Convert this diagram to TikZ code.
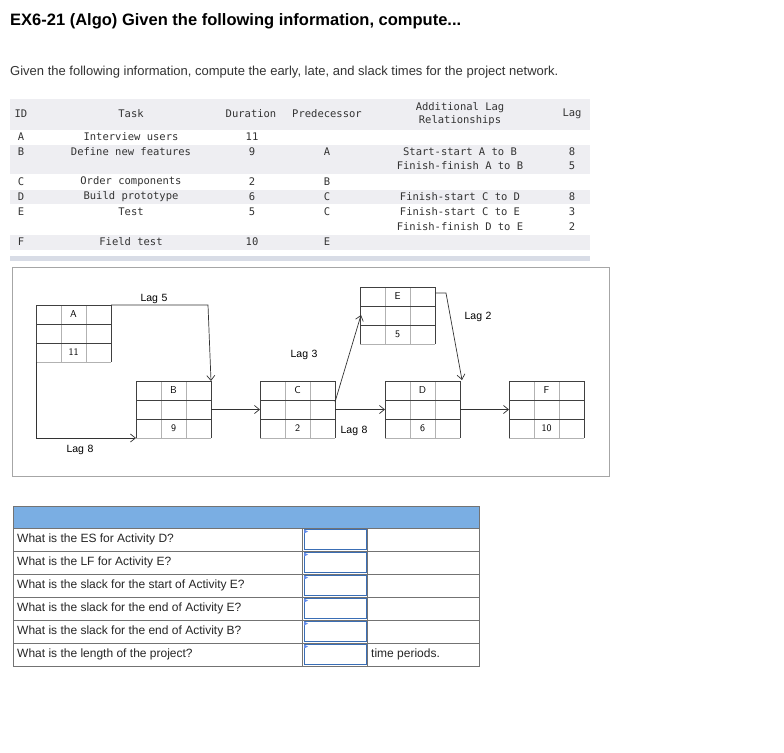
\documentclass[tikz,border=0pt]{standalone}
\usepackage{fontspec}
\setmainfont{Liberation Sans}
\setmonofont{DejaVu Sans Mono}
\usetikzlibrary{arrows.meta,calc}
\definecolor{rowg}{HTML}{EEEEF2}
\definecolor{barg}{HTML}{D8DCE6}
\definecolor{hblue}{HTML}{7AAEE3}
\definecolor{ibox}{HTML}{3A6EB5}
\definecolor{tgrey}{HTML}{333333}
\tikzset{
  mono/.style={font=\ttfamily\fontsize{10.5}{12.5}\selectfont, text=tgrey, inner sep=0pt},
  cell/.style={draw=none, inner sep=0pt, font=\fontsize{10}{11}\selectfont\sffamily},
  lagl/.style={inner sep=0pt, font=\fontsize{10.5}{12}\selectfont},
  conn/.style={draw=black!80, line width=0.7pt, -{Straight Barb[length=5pt,width=8pt]}},
  qtxt/.style={anchor=west, inner sep=0pt, font=\fontsize{12}{14}\selectfont, text=black!85},
}
\newcommand{\actbox}[5]{% name, x0, y0 (top), label, duration
  \begin{scope}[shift={(#2,#3)}]
    \draw[black!30, line width=0.6pt] (0,19) -- (75,19) (0,38) -- (75,38) (25,0) -- (25,57) (50,0) -- (50,57) (0,57) -- (75,57);
    \draw[black!75, line width=0.8pt] (0,0) -- (75,0) (0,0) -- (0,57) (75,0) -- (75,57) (0,19) -- (75,19) (0,38) -- (75,38);
    \node[cell] at (37.5,9.5) {#4};
    \node[cell] at (37.5,47.5) {#5};
    \coordinate (#1tl) at (0,0); \coordinate (#1tr) at (75,0);
    \coordinate (#1bl) at (0,57); \coordinate (#1br) at (75,57);
    \coordinate (#1ml) at (0,28.5); \coordinate (#1mr) at (75,28.5);
    \coordinate (#1ur) at (75,21);
  \end{scope}}
\begin{document}
\begin{tikzpicture}[x=1pt,y=-1pt]
\useasboundingbox (0,0) rectangle (784,752);
\fill[white] (0,0) rectangle (784,752);
\node[anchor=west,inner sep=0pt,font=\bfseries\fontsize{16.5}{18}\selectfont] (title) at (10,21) {EX6-21 (Algo) Given the following information, compute...};
\node[anchor=west,inner sep=0pt,font=\fontsize{13}{15}\selectfont,text=black!80] (sub) at (10,72) {Given the following information, compute the early, late, and slack times for the project network.};
% table shading
\fill[rowg] (10,99) rectangle (590,130);
\fill[rowg] (10,145) rectangle (590,174);
\fill[rowg] (10,190) rectangle (590,204);
\fill[rowg] (10,235) rectangle (590,250);
\fill[barg] (10,256) rectangle (590,261);
\node[mono] at (21,114) {ID};
\node[mono] at (131,114) {Task};
\node[mono] at (251,114) {Duration};
\node[mono] at (327,114) {Predecessor};
\node[mono,align=center] at (460,114) {Additional Lag\\Relationships};
\node[mono] at (572,114) {Lag};
\foreach \y/\id/\t/\d/\p in {137/A/Interview users/11/,152/B/Define new features/9/A,182/C/Order components/2/B,197/D/Build prototype/6/C,212/E/Test/5/C,242/F/Field test/10/E}{
  \node[mono] at (21,\y) {\id};
  \node[mono] at (131,\y) {\t};
  \node[mono] at (252,\y) {\d};
  \node[mono] at (327,\y) {\p};
}
\foreach \y/\r/\l in {152/Start-start A to B/8,166/Finish-finish A to B/5,197/Finish-start C to D/8,212/Finish-start C to E/3,227/Finish-finish D to E/2}{
  \node[mono] at (460,\y) {\r};
  \node[mono] at (572,\y) {\l};
}
% network
\draw[black!35, line width=0.8pt] (12,267) rectangle (609,476);
\actbox{A}{36}{305}{A}{11}
\actbox{B}{136}{381}{B}{9}
\actbox{C}{260}{381}{C}{2}
\actbox{E}{360}{287}{E}{5}
\actbox{D}{385}{381}{D}{6}
\actbox{F}{509}{381}{F}{10}
\coordinate (k1) at (208,305);
\coordinate (k2) at (36,438);
\coordinate (k3) at (446,293);
\draw[conn] (Atr) -- (k1) -- (Btr);
\draw[conn] (Abl) -- (k2) -- (Bbl);
\draw[conn] (Bmr) -- (Cml);
\draw[conn] (Cur) -- ($(Etl)+(1,28)$);
\draw[conn] (Cmr) -- (Dml);
\draw[conn] ($(Etr)+(0,6)$) -- (k3) -- ($(Dtr)+(2,-1)$);
\draw[conn] (Dmr) -- (Fml);
\node[lagl] (l5) at (154,299) {Lag\,\,5};
\node[lagl] (l8a) at (80,450) {Lag\,\,8};
\node[lagl] (l3) at (304,355) {Lag\,\,3};
\node[lagl] (l8b) at (354,431) {Lag\,\,8};
\node[lagl] (l2) at (478,317) {Lag\,\,2};
% question table
\fill[hblue] (13,506) rectangle (479,528);
\draw[black!55, line width=0.8pt] (13,506) rectangle (479,666);
\foreach \y in {528,551,574,597,620,643}{\draw[black!55,line width=0.8pt] (13,\y) -- (479,\y);}
\draw[black!55,line width=0.8pt] (302,528) -- (302,666) (367,528) -- (367,666);
\foreach \y/\q in {539.5/What is the ES for Activity D?,562.5/What is the LF for Activity E?,585.5/What is the slack for the start of Activity E?,608.5/What is the slack for the end of Activity E?,631.5/What is the slack for the end of Activity B?,654.5/What is the length of the project?}{
  \node[qtxt] at (17,\y) {\q};
  \draw[ibox, line width=1pt] (304,\y-10) rectangle (366,\y+10);
  \fill[hblue!80!blue] (304,\y-10) -- (308,\y-8) -- (304,\y-6) -- cycle;
}
\node[qtxt] (tp) at (371,654.5) {time periods.};
\end{tikzpicture}
\end{document}
